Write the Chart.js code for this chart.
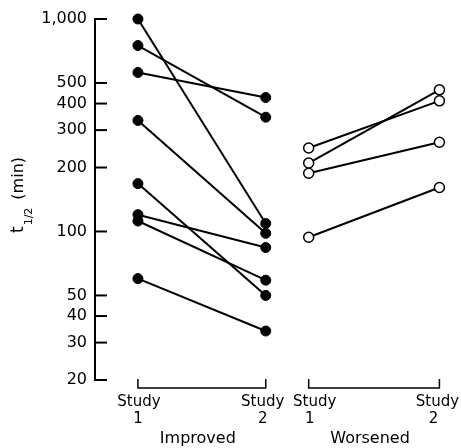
<!DOCTYPE html>
<html>
<head>
<meta charset="utf-8">
<script src="https://cdn.jsdelivr.net/npm/chart.js@4.4.1/dist/chart.umd.min.js"></script>
<style>
  html, body { margin: 0; padding: 0; background: #fff; }
  #wrap { width: 461px; height: 448px; }
</style>
</head>
<body>
<div id="wrap"><canvas id="chart" width="461" height="448"></canvas></div>
<script>
// data (t1/2 in minutes)
const groups = ["Improved", "Worsened"];
const studyX = { Improved: [1, 2], Worsened: [2.336, 3.359] };
const improvedStudy1 = [1000, 750, 560, 333, 168, 120, 112, 60];
const improvedStudy2 = [109, 345, 427, 98, 50, 84, 59, 34];
const worsenedStudy1 = [247, 210, 188, 94];
const worsenedStudy2 = [412, 464, 263, 161];
const yTicks = [20, 30, 40, 50, 100, 200, 300, 400, 500, 1000];
const studyNames = ["1", "2"];

const FONT = "'DejaVu Sans', sans-serif";

function pairSets(s1, s2, xs, filled) {
  return s1.map((v, i) => ({
    data: [{ x: xs[0], y: v }, { x: xs[1], y: s2[i] }],
    borderColor: "#000",
    borderWidth: 2,
    pointRadius: 5,
    pointHoverRadius: 5,
    pointBorderWidth: filled ? 1 : 1.5,
    pointBackgroundColor: filled ? "#000" : "#fff",
    pointBorderColor: "#000",
    clip: false
  }));
}

const datasets = [
  ...pairSets(improvedStudy1, improvedStudy2, studyX.Improved, true),
  ...pairSets(worsenedStudy1, worsenedStudy2, studyX.Worsened, false)
];

// label nudges so neighbouring "Study" words don't touch (as in the print)
const wordShift = { Improved: [1, -3], Worsened: [6, -2] };
const numShift = { Improved: [0, -3], Worsened: [1, -6] };

// inward tick marks, brackets, study labels, group names and the y title
const extras = {
  id: "extras",
  afterDraw(chart) {
    const { ctx, scales: { x, y } } = chart;
    const left = chart.chartArea.left;
    ctx.save();
    ctx.strokeStyle = "#000";
    ctx.fillStyle = "#000";
    ctx.lineWidth = 2;
    yTicks.forEach(v => {
      const py = y.getPixelForValue(v);
      ctx.beginPath();
      ctx.moveTo(left, py);
      ctx.lineTo(left + 12, py);
      ctx.stroke();
    });

    const yb = chart.chartArea.bottom;
    ctx.lineWidth = 1.5;
    ctx.textAlign = "center";
    ctx.textBaseline = "middle";
    groups.forEach(g => {
      const px = studyX[g].map(v => x.getPixelForValue(v));
      ctx.beginPath();
      ctx.moveTo(px[0], yb - 1);
      ctx.lineTo(px[0], yb + 8);
      ctx.lineTo(px[1], yb + 8);
      ctx.lineTo(px[1], yb - 1);
      ctx.stroke();
      ctx.font = "15px " + FONT;
      px.forEach((p, i) => {
        ctx.fillText("Study", p + wordShift[g][i], yb + 22);
        ctx.fillText(studyNames[i], p + numShift[g][i], yb + 39);
      });
      ctx.font = "16px " + FONT;
      ctx.fillText(g, (px[0] + px[1]) / 2 - 4, yb + 59);
    });

    // y title: t with subscript 1/2, then (min)
    ctx.translate(23, 233);
    ctx.rotate(-Math.PI / 2);
    ctx.textAlign = "left";
    ctx.textBaseline = "alphabetic";
    ctx.font = "17px " + FONT;
    ctx.fillText("t", 0, 0);
    let tx = ctx.measureText("t").width + 1;
    ctx.font = "11px " + FONT;
    ctx.fillText("1/2", tx, 9);
    tx += ctx.measureText("1/2").width + 8;
    ctx.font = "16px " + FONT;
    ctx.fillText("(min)", tx, 0);
    ctx.restore();
  }
};

new Chart(document.getElementById("chart"), {
  type: "line",
  data: { datasets },
  options: {
    responsive: false,
    animation: false,
    events: [],
    layout: { padding: { top: 19, right: 6, bottom: 68, left: 0 } },
    plugins: { legend: { display: false }, tooltip: { enabled: false } },
    scales: {
      x: {
        type: "linear",
        min: 0.664,
        max: 3.477,
        display: false
      },
      y: {
        type: "logarithmic",
        min: 20,
        max: 1000,
        grid: { display: false, drawTicks: false },
        border: { display: true, color: "#000", width: 2 },
        afterBuildTicks: s => { s.ticks = yTicks.map(v => ({ value: v })); },
        afterFit: s => { s.width = 95; s.paddingTop = 0; s.paddingBottom = 0; },
        ticks: {
          padding: 8,
          color: "#000",
          font: { family: FONT, size: 16 },
          callback: v => v.toLocaleString("en-US")
        }
      }
    }
  },
  plugins: [extras]
});
</script>
</body>
</html>
